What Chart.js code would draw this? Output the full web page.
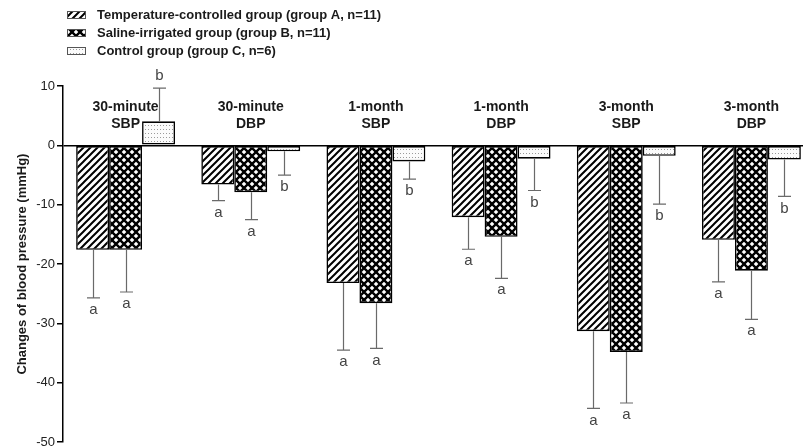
<!DOCTYPE html>
<html>
<head>
<meta charset="utf-8">
<script src="https://cdn.jsdelivr.net/npm/chart.js@4.4.1/dist/chart.umd.min.js"></script>
<style>
html, body { margin: 0; padding: 0; background: #fff; overflow: hidden; }
canvas { display: block; }
</style>
</head>
<body>
<canvas id="bp" width="814" height="452"></canvas>
<script>
// data
var categories = [['30-minute', 'SBP'], ['30-minute', 'DBP'], ['1-month', 'SBP'], ['1-month', 'DBP'], ['3-month', 'SBP'], ['3-month', 'DBP']];
var groupNames = ['Temperature-controlled group (group A, n=11)', 'Saline-irrigated group (group B, n=11)', 'Control group (group C, n=6)'];
var groupA = [-17.6, -6.6, -23.2, -12.1, -31.3, -15.9];
var groupB = [-17.6, -7.9, -26.6, -15.4, -34.8, -21.1];
var groupC = [4.05, -1.0, -2.7, -2.25, -1.75, -2.4];
var sdA = [8.1, 2.7, 11.3, 5.4, 13.0, 7.1];
var sdB = [7.1, 4.6, 7.6, 7.0, 8.6, 8.2];
var sdC = [5.6, 4.0, 3.0, 5.35, 8.15, 6.2];
var letterA = ['a', 'a', 'a', 'a', 'a', 'a'];
var letterB = ['a', 'a', 'a', 'a', 'a', 'a'];
var letterC = ['b', 'b', 'b', 'b', 'b', 'b'];
var yMin = -50, yMax = 10, yStep = 10;

var FONT = '"Liberation Sans", Arial, Helvetica, sans-serif';
Chart.defaults.font.family = FONT;

function makePattern(kind) {
    var c = document.createElement('canvas');
    var g = c.getContext('2d');
    if (kind == 'hatch') {
        c.width = 7; c.height = 7;
        g.fillStyle = '#fff'; g.fillRect(0, 0, 7, 7);
        g.strokeStyle = '#000'; g.lineWidth = 2;
        g.beginPath();
        g.moveTo(-1, 8); g.lineTo(8, -1);
        g.moveTo(-4, 4); g.lineTo(4, -4);
        g.moveTo(3, 11); g.lineTo(11, 3);
        g.stroke();
    } else if (kind == 'cross') {
        c.width = 8; c.height = 8;
        g.fillStyle = '#fff'; g.fillRect(0, 0, 8, 8);
        g.strokeStyle = '#000'; g.lineWidth = 2.4;
        g.beginPath();
        g.moveTo(-1, -1); g.lineTo(9, 9);
        g.moveTo(-1, 9); g.lineTo(9, -1);
        g.stroke();
    } else {
        c.width = 3; c.height = 4;
        g.fillStyle = '#fbfbfb'; g.fillRect(0, 0, 3, 4);
        g.fillStyle = '#9a9a9a'; g.fillRect(1, 1, 1, 1);
    }
    return g.createPattern(c, 'repeat');
}

var fills = [makePattern('hatch'), makePattern('cross'), makePattern('dots')];
var sds = [sdA, sdB, sdC];
var letters = [letterA, letterB, letterC];

var extras = {
    id: 'extras',
    afterDatasetsDraw: function(chart) {
        var c = chart.ctx;
        var ys = chart.scales.y, xs = chart.scales.x;
        c.save();
        // error bars + letters
        chart.data.datasets.forEach(function(ds, i) {
            var meta = chart.getDatasetMeta(i);
            meta.data.forEach(function(bar, j) {
                var v = ds.data[j];
                var end = v < 0 ? v - sds[i][j] : v + sds[i][j];
                var y1 = ys.getPixelForValue(end);
                var x = Math.round(bar.x) + 0.5;
                c.strokeStyle = '#6a6a6a';
                c.lineWidth = 1.2;
                c.beginPath();
                c.moveTo(x, bar.y);
                c.lineTo(x, y1);
                c.moveTo(x - 6.5, y1);
                c.lineTo(x + 6.5, y1);
                c.stroke();
                c.fillStyle = '#444';
                c.font = '15px ' + FONT;
                c.textAlign = 'center';
                c.textBaseline = 'middle';
                c.fillText(letters[i][j], x, v < 0 ? y1 + 12 : y1 - 12);
            });
        });
        // category titles above the zero line
        c.fillStyle = '#1a1a1a';
        c.font = 'bold 14px ' + FONT;
        c.textAlign = 'center';
        c.textBaseline = 'middle';
        categories.forEach(function(lab, j) {
            var cx = xs.getPixelForValue(j);
            c.fillText(lab[0], cx, 107);
            c.fillText(lab[1], cx, 124);
        });
        // legend
        c.font = 'bold 13px ' + FONT;
        c.textAlign = 'left';
        groupNames.forEach(function(name, i) {
            var ry = 15 + i * 18;
            c.fillStyle = fills[i];
            c.fillRect(67, ry - 4, 19, 8);
            c.strokeStyle = '#555';
            c.lineWidth = 1;
            c.strokeRect(67.5, ry - 3.5, 18, 7);
            c.fillStyle = '#1a1a1a';
            c.fillText(name, 97, ry);
        });
        c.restore();
    }
};

var ctx = document.getElementById('bp');
var myChart = new Chart(ctx, {
    type: 'bar',
    data: {
        labels: categories,
        datasets: [
            { label: groupNames[0], data: groupA, backgroundColor: fills[0], borderColor: '#000', borderWidth: 1.6, borderSkipped: false },
            { label: groupNames[1], data: groupB, backgroundColor: fills[1], borderColor: '#000', borderWidth: 1.6, borderSkipped: false },
            { label: groupNames[2], data: groupC, backgroundColor: fills[2], borderColor: '#000', borderWidth: 1.6, borderSkipped: false }
        ]
    },
    options: {
        responsive: false,
        animation: false,
        devicePixelRatio: 1,
        categoryPercentage: 0.79,
        barPercentage: 1,
        layout: { padding: { top: 86, bottom: 0, left: 0, right: 0 } },
        plugins: {
            legend: { display: false },
            tooltip: { enabled: false }
        },
        scales: {
            x: {
                display: false
            },
            y: {
                min: yMin,
                max: yMax,
                ticks: {
                    stepSize: yStep,
                    color: '#222',
                    font: { size: 13 },
                    padding: 2
                },
                grid: {
                    color: function(c) { return c.tick && c.tick.value === 0 ? '#000' : 'rgba(0,0,0,0)'; },
                    lineWidth: 1.5,
                    tickColor: '#000',
                    tickLength: 6,
                    tickWidth: 1.5
                },
                border: { color: '#000', width: 1.5 },
                title: {
                    display: true,
                    text: 'Changes of blood pressure (mmHg)',
                    color: '#1a1a1a',
                    font: { size: 13, weight: 'bold' },
                    padding: { top: 15, bottom: 4 }
                },
                afterFit: function(s) { s.width = 63; }
            }
        }
    },
    plugins: [extras]
});
</script>
</body>
</html>
